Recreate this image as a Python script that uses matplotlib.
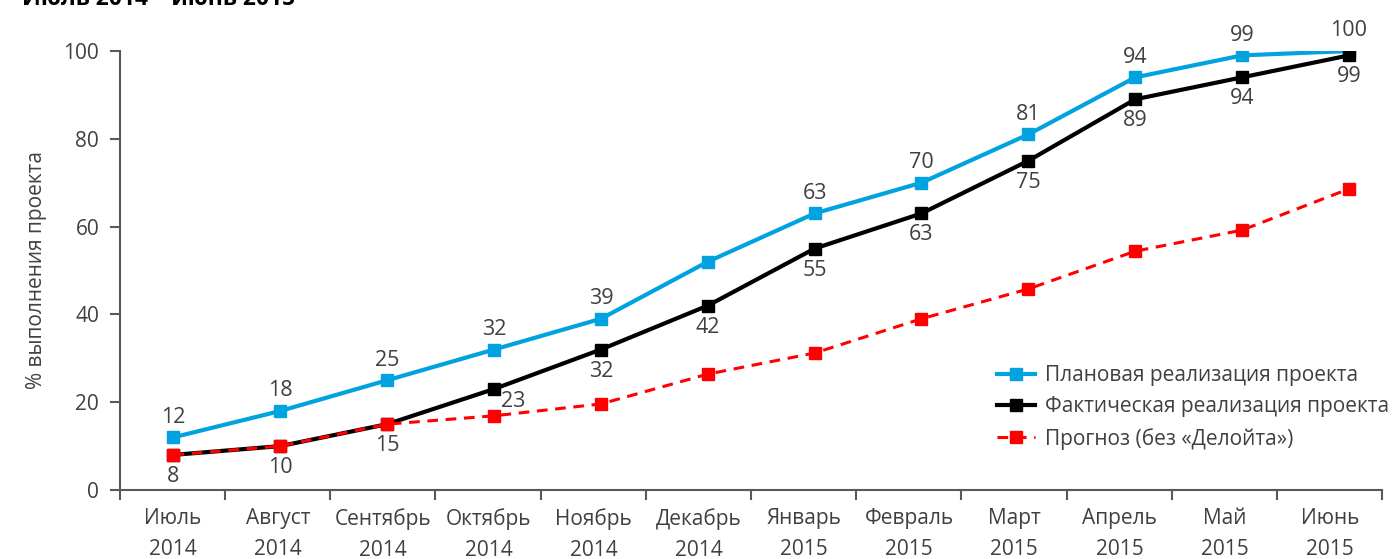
import matplotlib
matplotlib.use("Agg")
import matplotlib.pyplot as plt
import numpy as np

plt.rcParams['font.family'] = ['Open Sans', 'DejaVu Sans']

months = ["Июль\n2014", "Август\n2014", "Сентябрь\n2014", "Октябрь\n2014", "Ноябрь\n2014",
          "Декабрь\n2014", "Январь\n2015", "Февраль\n2015", "Март\n2015", "Апрель\n2015",
          "Май\n2015", "Июнь\n2015"]
plan = [12, 18, 25, 32, 39, 52, 63, 70, 81, 94, 99, 100]
actual = [8, 10, 15, 23, 32, 42, 55, 63, 75, 89, 94, 99]
forecast = [8, 10, 15, 16.9, 19.6, 26.4, 31.2, 39.0, 45.8, 54.4, 59.2, 68.6]
plan_labels = ["12", "18", "25", "32", "39", None, "63", "70", "81", "94", "99", "100"]
actual_labels = ["8", "10", "15", "23", "32", "42", "55", "63", "75", "89", "94", "99"]

series_names = ["Плановая реализация проекта", "Фактическая реализация проекта",
                "Прогноз (без «Делойта»)"]
title = "Июль 2014 – июнь 2015"
ylabel = "% выполнения проекта"

TXT = "#404040"
BLUE = "#00A3E0"
RED = "#FF0000"
AX = "#595959"
FS = 15
FSN = 15.5

fig = plt.figure(figsize=(14, 5.59), dpi=100)
ax = fig.add_axes([120/1400, 1-490/559, (1382-120)/1400, (490-51)/559])

x = np.arange(len(months))
ax.plot(x, plan, color=BLUE, lw=3, marker='s', ms=9, label=series_names[0], zorder=3)
ax.plot(x, actual, color='black', lw=3, marker='s', ms=9, label=series_names[1], zorder=4)
ax.plot(x, forecast, color=RED, lw=2.2, ls=(0, (3.5, 2.5)), marker='s', ms=9,
        label=series_names[2], zorder=5)

for i, (v, t) in enumerate(zip(plan, plan_labels)):
    if t:
        ax.annotate(t, (x[i], v), xytext=(0, 14.5), textcoords='offset points',
                    ha='center', va='center', fontsize=FSN, color=TXT)
for i, (v, t) in enumerate(zip(actual, actual_labels)):
    if i == 3:
        ax.annotate(t, (x[i], v), xytext=(14, -9), textcoords='offset points',
                    ha='center', va='center', fontsize=FSN, color=TXT)
    else:
        ax.annotate(t, (x[i], v), xytext=(0, -15.5), textcoords='offset points',
                    ha='center', va='center', fontsize=FSN, color=TXT)

# pixel geometry: points 106.9 px apart, categories 105.2 px apart
scale = 105.2 / 106.9
ax.set_xlim(-0.5, -0.5 + 12 * scale)
ax.set_ylim(0, 100)
label_pos = (np.arange(12) * 105.2 + 173 - 173.5) / 106.9
ax.set_xticks(label_pos)
ax.set_xticklabels(months, linespacing=1.6)
ax.set_xticks(-0.5 + scale * np.arange(13), minor=True)
ax.tick_params(axis='x', which='major', length=0, pad=13, labelsize=FS, labelcolor=TXT)
ax.tick_params(axis='x', which='minor', length=7, width=1.5, color=AX, direction='out')
ax.set_yticks([0, 20, 40, 60, 80, 100])
ax.tick_params(axis='y', length=7, width=1.5, color=AX, labelsize=FS, labelcolor=TXT, pad=8)
for s in ['top', 'right']:
    ax.spines[s].set_visible(False)
for s in ['left', 'bottom']:
    ax.spines[s].set_color(AX)
    ax.spines[s].set_linewidth(1.5)

ax.set_ylabel(ylabel, fontsize=FS, color=TXT, labelpad=12)

leg = ax.legend(loc='upper left', frameon=False,
                fontsize=FS, labelcolor=TXT, handlelength=1.8, handletextpad=0.5,
                labelspacing=0.5, borderaxespad=0, borderpad=0)
leg.set_bbox_to_anchor((997/1400, 1-365/559), transform=fig.transFigure)

fig.text(22/1400, 1-5/559, title, fontsize=16.5, fontweight='bold', color='black',
         ha='left', va='baseline')

fig.savefig("out.png", dpi=100)
